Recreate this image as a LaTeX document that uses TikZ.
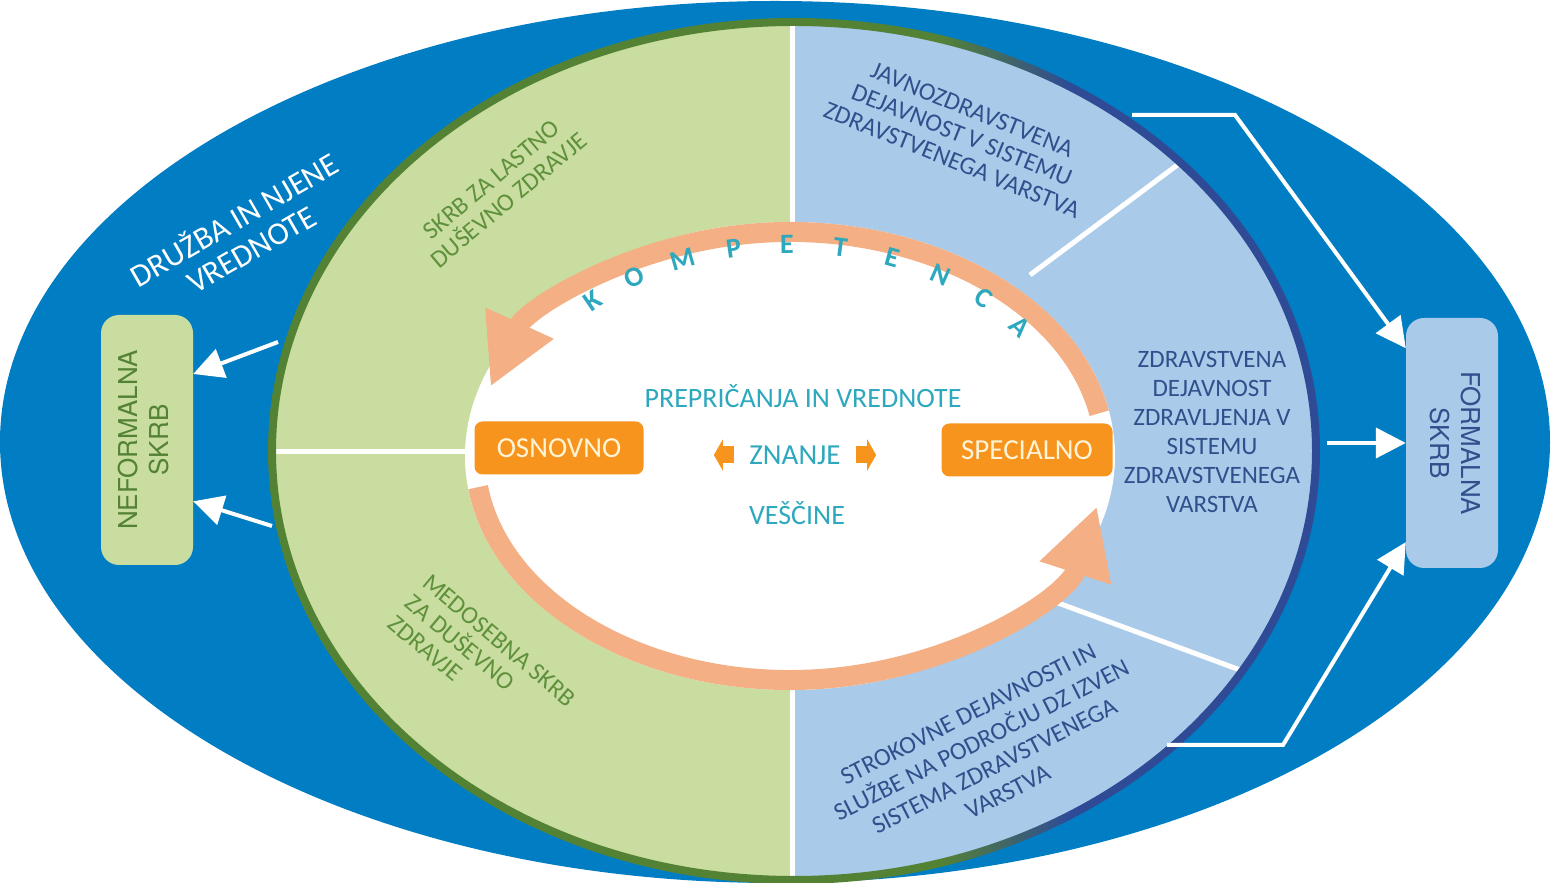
\documentclass[tikz,border=0pt]{standalone}
\usepackage{fontspec}
\setmainfont{Carlito}
\newfontfamily\heros{TeX Gyre Heros}
\usetikzlibrary{arrows.meta, positioning}
\definecolor{seablue}{RGB}{0,125,195}
\definecolor{leafgreen}{RGB}{201,221,160}
\definecolor{skyblue}{RGB}{169,202,232}
\definecolor{darkleaf}{RGB}{84,130,53}
\definecolor{navyline}{RGB}{47,75,150}
\definecolor{ringorange}{RGB}{244,176,132}
\definecolor{boxorange}{RGB}{247,148,30}
\definecolor{cream}{RGB}{255,244,214}
\definecolor{tealtext}{RGB}{45,168,190}
\definecolor{bluetext}{RGB}{47,80,140}
\definecolor{greentext}{RGB}{95,145,60}
\tikzset{
  whitearrow/.style={draw=white, line width=4pt, -{Triangle[length=30pt,width=30pt]}},
  divider/.style={white, line width=5pt},
  sidebox/.style={rounded corners=18pt, minimum width=92pt, minimum height=250pt, inner sep=0pt,
                  font=\heros\fontsize{26}{31}\selectfont},
  levelbox/.style={fill=boxorange, rounded corners=8pt, minimum height=53pt, inner sep=0pt, text=cream, font=\fontsize{29}{32}\selectfont},
  ringarc/.style={ringorange, line width=20pt},
  smallarr/.style={draw=boxorange, line width=17pt, -{Triangle[length=9pt,width=31pt]}},
}

\begin{document}
\begin{tikzpicture}[x=1pt, y=1pt]
            \useasboundingbox (0,0) rectangle (1551,883);
            \fill[white] (0,0) rectangle (1551,883);

            % outer ellipse
            \fill[seablue] (775,441) ellipse [x radius=775pt, y radius=441pt];

            % middle ellipse, two halves
            \begin{scope}
            \clip (794,432) ellipse [x radius=522pt, y radius=429pt];
            \fill[leafgreen] (0,0) rectangle (792,883);
            \fill[skyblue] (792,0) rectangle (1551,883);
            \end{scope}

            % white dividers
            \draw[divider] (792,861) -- (792,655);
            \draw[divider] (792,200) -- (792,3);
            \draw[divider] (272,431) -- (470,431);
            \draw[divider] (1030,608) -- (1180,720);
            \draw[divider] (1050,283) -- (1240,213);

            % outline of middle ellipse
            \begin{scope}[even odd rule]
            \clip (794,432) ellipse [x radius=526pt, y radius=433pt]
                  (794,432) ellipse [x radius=518pt, y radius=425pt];
            \fill[darkleaf] (0,0) rectangle (940,883);
            \shade[left color=darkleaf, right color=navyline] (940,0) rectangle (1070,883);
            \fill[navyline] (1070,0) rectangle (1551,883);
            \end{scope}

            % inner ellipse and competence ring
            \fill[white] (790,427) ellipse [x radius=325pt, y radius=234pt];
            \draw[ringarc, -{Triangle[length=70pt,width=70pt]}] (790,427) ++(11:315pt and 224pt)
                arc [start angle=11, end angle=162, x radius=315pt, y radius=224pt];
            \draw[ringarc, -{Triangle[length=70pt,width=70pt]}] (790,427) ++(188:315pt and 224pt)
                arc [start angle=188, end angle=347, x radius=315pt, y radius=224pt];

            \foreach \ch [count=\i] in {K,O,M,P,E,T,E,N,C,A}{
                \pgfmathsetmacro\ang{133-(\i-1)*10.6}
                \pgfmathsetmacro\tilt{atan2(-212*cos(\ang),290*sin(\ang))}
                \node[text=tealtext, font=\bfseries\fontsize{28}{28}\selectfont, rotate=\tilt] (k\i)
                    at ({790+290*cos(\ang)},{427+212*sin(\ang)}) {\ch};
            }

            % centre
            \node[text=tealtext, font=\fontsize{28}{30}\selectfont] (beliefs) at (803,487) {PREPRIČANJA IN VREDNOTE};
            \node[text=tealtext, font=\fontsize{29}{30}\selectfont] (znanje) at (795,428) {ZNANJE};
            \node[text=tealtext, font=\fontsize{28}{30}\selectfont] (skills) at (797,370) {VEŠČINE};
            \coordinate[left=12pt of znanje] (lbase);
            \coordinate[left=20pt of lbase] (ltip);
            \coordinate[right=12pt of znanje] (rbase);
            \coordinate[right=20pt of rbase] (rtip);
            \draw[smallarr] (lbase) -- (ltip);
            \draw[smallarr] (rbase) -- (rtip);
            \node[levelbox, minimum width=169pt] (basic) at (559,435) {OSNOVNO};
            \node[levelbox, minimum width=171pt] (special) at (1027,433) {SPECIALNO};

            % sector labels
            \node[text=white, align=center, rotate=30, font=\fontsize{32}{34}\selectfont] (society) at (242,650)
                {DRUŽBA IN NJENE\\VREDNOTE};
            \node[text=greentext, align=center, rotate=40, font=\fontsize{25}{27}\selectfont] (selfcare) at (500,693)
                {SKRB ZA LASTNO\\DUŠEVNO ZDRAVJE};
            \node[text=greentext, align=left, rotate=-40, font=\fontsize{25}{27}\selectfont] (mutualcare) at (482,222)
                {MEDOSEBNA SKRB\\ZA DUŠEVNO\\ZDRAVJE};
            \node[text=bluetext, align=center, rotate=-22, font=\fontsize{25}{27}\selectfont] (public) at (962,748)
                {JAVNOZDRAVSTVENA\\DEJAVNOST V SISTEMU\\ZDRAVSTVENEGA VARSTVA};
            \node[text=bluetext, align=center, font=\fontsize{25}{29}\selectfont] (treatment) at (1212,451)
                {ZDRAVSTVENA\\DEJAVNOST\\ZDRAVLJENJA V\\SISTEMU\\ZDRAVSTVENEGA\\VARSTVA};
            \node[text=bluetext, align=center, rotate=27, font=\fontsize{25}{29}\selectfont] (outside) at (988,130)
                {STROKOVNE DEJAVNOSTI IN\\SLUŽBE NA PODROČJU DZ IZVEN\\SISTEMA ZDRAVSTVENEGA\\VARSTVA};

            % side boxes
            \node[sidebox, fill=leafgreen, text=darkleaf] (nbox) at (147,443)
                {\rotatebox{90}{\begin{tabular}{@{}c@{}}NEFORMALNA\\SKRB\end{tabular}}};
            \node[sidebox, fill=skyblue, text=bluetext] (fbox) at (1452,440)
                {\rotatebox{-90}{\begin{tabular}{@{}c@{}}FORMALNA\\SKRB\end{tabular}}};

            % arrows to the boxes
            \coordinate (n1) at (278,541);
            \coordinate (n2) at (272,357);
            \coordinate (f1) at (1132,768);
            \coordinate (f1b) at (1235,768);
            \coordinate (f2) at (1327,440);
            \coordinate (f3) at (1167,138);
            \coordinate (f3b) at (1283,138);
            \draw[whitearrow] (n1) -- (nbox.55);
            \draw[whitearrow] (n2) -- (nbox.-53);
            \draw[whitearrow] (f1) -- (f1b) -- (fbox.116);
            \draw[whitearrow] (f2) -- (fbox.west);
            \draw[whitearrow] (f3) -- (f3b) -- (fbox.245);
            
\end{tikzpicture}
\end{document}
